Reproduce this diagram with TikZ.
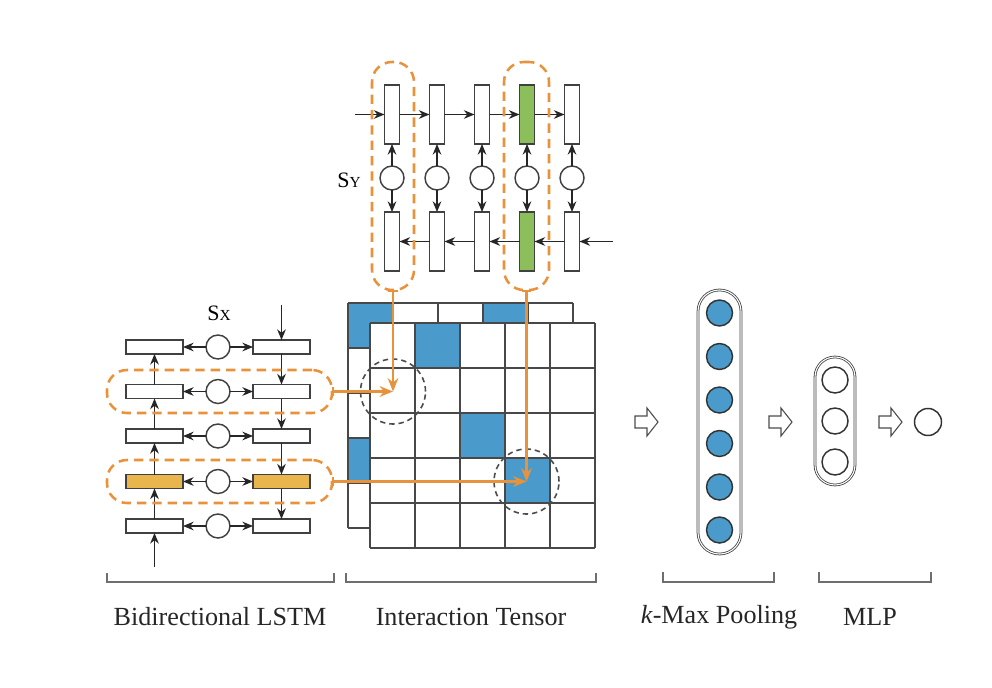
\documentclass[tikz,border=0pt]{standalone}
\usepackage{fontspec}
\setmainfont{Liberation Serif}
\usetikzlibrary{arrows.meta,shapes.geometric}
\newcommand{\myu}{0.75pt}
\definecolor{cblue}{RGB}{74,155,203}
\definecolor{cgreen}{RGB}{140,191,92}
\definecolor{cyellow}{RGB}{232,182,76}
\definecolor{corange}{RGB}{232,146,60}
\definecolor{cgrid}{RGB}{72,72,72}
\definecolor{cbrk}{RGB}{110,110,110}
\begin{document}
\begin{tikzpicture}[x=0.75pt,y=-0.75pt,
  vrect/.style={draw=black!75, line width=1.2pt, fill=white, minimum width=15*\myu, minimum height=59*\myu, inner sep=0pt, outer sep=0pt},
  hrect/.style={draw=black!75, line width=1.2pt, fill=white, minimum width=57*\myu, minimum height=14*\myu, inner sep=0pt, outer sep=0pt},
  gate/.style={circle, draw=black!75, line width=1.1pt, fill=white, minimum size=24*\myu, inner sep=0pt, outer sep=0pt},
  arr/.style={-{Stealth[length=8pt,width=6.5pt]}, line width=0.9pt, black!85},
  obox/.style={draw=corange, line width=1.9pt, dash pattern=on 7pt off 4.5pt, rounded corners=15pt, inner sep=0pt, outer sep=0pt},
  oarr/.style={draw=corange, line width=1.8pt, {Bar[width=7pt]}-{Stealth[length=10pt,width=8pt]}},
  dcirc/.style={circle, draw=black!70, line width=1.2pt, dash pattern=on 4pt off 3pt, minimum size=65*\myu, inner sep=0pt},
  gridl/.style={draw=cgrid, line width=1.3pt},
  capsule/.style={draw=black!75, line width=0.6pt, double=white, double distance=0.8pt, inner sep=0pt},
  pcirc/.style={circle, draw=black!80, line width=1.1pt, minimum size=26*\myu, inner sep=0pt},
  barrow/.style={draw=black!70, line width=0.8pt, fill=white},
  brk/.style={draw=cbrk, line width=1.2pt},
  lab/.style={font=\fontsize{19.6}{23}\selectfont, text=black!85, inner sep=0pt}
]
\useasboundingbox (0,0) rectangle (992,688);

% ---------- top (S_Y) bidirectional LSTM ----------
\foreach \i/\x in {1/392,2/437,3/482,4/527,5/572}{
  \node[vrect] (t\i) at (\x,114.5) {};
  \node[gate] (c\i) at (\x,178) {};
  \node[vrect] (b\i) at (\x,241.5) {};
  \draw[arr] (c\i) -- (t\i);
  \draw[arr] (c\i) -- (b\i);
}
\node[vrect, fill=cgreen] at (t4) {};
\node[vrect, fill=cgreen] at (b4) {};
\coordinate (yin) at (355,114.5);
\coordinate (yout) at (613,241.5);
\draw[arr] (yin) -- (t1);
\draw[arr] (t1) -- (t2);
\draw[arr] (t2) -- (t3);
\draw[arr] (t3) -- (t4);
\draw[arr] (t4) -- (t5);
\draw[arr] (yout) -- (b5);
\draw[arr] (b5) -- (b4);
\draw[arr] (b4) -- (b3);
\draw[arr] (b3) -- (b2);
\draw[arr] (b2) -- (b1);
\node[obox, minimum width=42*\myu, minimum height=228*\myu] (yb1) at (393,176) {};
\node[obox, minimum width=45*\myu, minimum height=228*\myu] (yb4) at (526.5,176) {};
\node[inner sep=0pt, anchor=base] (sy) at (349,187) {\fontsize{16.5}{18}\selectfont S\fontsize{11.5}{12}\selectfont Y};

% ---------- left (S_X) bidirectional LSTM ----------
\foreach \i/\y in {1/347,2/391.5,3/436,4/481.5,5/526}{
  \node[hrect] (l\i) at (154.5,\y) {};
  \node[gate] (m\i) at (218,\y) {};
  \node[hrect] (r\i) at (281.5,\y) {};
  \draw[arr] (m\i) -- (l\i);
  \draw[arr] (m\i) -- (r\i);
}
\node[hrect, fill=cyellow] at (l4) {};
\node[hrect, fill=cyellow] at (r4) {};
\coordinate (xin) at (154.5,567);
\coordinate (xtop) at (281.5,305);
\draw[arr] (xin) -- (l5);
\draw[arr] (l5) -- (l4);
\draw[arr] (l4) -- (l3);
\draw[arr] (l3) -- (l2);
\draw[arr] (l2) -- (l1);
\draw[arr] (xtop) -- (r1);
\draw[arr] (r1) -- (r2);
\draw[arr] (r2) -- (r3);
\draw[arr] (r3) -- (r4);
\draw[arr] (r4) -- (r5);
\node[obox, minimum width=225*\myu, minimum height=43*\myu] (xb2) at (219.5,391.5) {};
\node[obox, minimum width=225*\myu, minimum height=43*\myu] (xb4) at (219.5,481.5) {};
\node[inner sep=0pt, anchor=base] (sx) at (219,320) {\fontsize{16.5}{18}\selectfont S\fontsize{11.5}{12}\selectfont X};

% ---------- interaction tensor ----------
\fill[white] (348,303) rectangle (573,528);
\fill[cblue] (348,303) rectangle (393,348);
\fill[cblue] (483,303) rectangle (528,348);
\fill[cblue] (348,438) rectangle (393,483);
\foreach \i in {0,...,5}{
  \draw[gridl] (348+45*\i,303) -- (348+45*\i,528);
  \draw[gridl] (348,303+45*\i) -- (573,303+45*\i);
}
\fill[white] (370,323) rectangle (595,548);
\fill[cblue] (415,323) rectangle (460,368);
\fill[cblue] (460,413) rectangle (505,458);
\fill[cblue] (505,458) rectangle (550,503);
\foreach \i in {0,...,5}{
  \draw[gridl] (370+45*\i,323) -- (370+45*\i,548);
  \draw[gridl] (370,323+45*\i) -- (595,323+45*\i);
}
\coordinate (p1) at (yb1.south |- xb2.east);
\coordinate (p2) at (yb4.south |- xb4.east);
\node[dcirc] (dc1) at (p1) {};
\node[dcirc] (dc2) at (p2) {};
\draw[oarr] (yb1.south) -- (p1);
\draw[oarr] (xb2.east) -- (p1);
\draw[oarr] (yb4.south) -- (p2);
\draw[oarr] (xb4.east) -- (p2);

% ---------- k-max pooling & MLP ----------
\foreach \cx in {646,780,890}{
  \draw[barrow, shift={(\cx,422)}] (-11,-6) -- (1,-6) -- (1,-14) -- (12,0) -- (1,14) -- (1,6) -- (-11,6) -- cycle;
}
\node[capsule, minimum width=43*\myu, minimum height=264*\myu, rounded corners=16pt] (pool) at (719.5,422) {};
\foreach \i/\y in {1/313,2/356.5,3/400,4/443.5,5/487,6/530}{
  \node[pcirc, fill=cblue] (pc\i) at (719.5,\y) {};
}
\node[capsule, minimum width=40*\myu, minimum height=128*\myu, rounded corners=15pt] (mlp) at (835,421) {};
\foreach \i/\y in {1/380,2/421,3/462}{
  \node[pcirc, fill=white] (mc\i) at (835,\y) {};
}
\node[pcirc, fill=white, minimum size=27*\myu] (out) at (928,422) {};

% ---------- brackets & labels ----------
\draw[brk] (107,573) -- (107,582) -- (334,582) -- (334,573);
\draw[brk] (346,573) -- (346,582) -- (596,582) -- (596,573);
\draw[brk] (663,572) -- (663,582) -- (774,582) -- (774,572);
\draw[brk] (819,572) -- (819,582) -- (931,582) -- (931,572);
\node[lab] (lab1) at (220,617) {Bidirectional LSTM};
\node[lab] (lab2) at (471,617) {Interaction Tensor};
\node[lab] (lab3) at (719,617) {\textit{k}-Max Pooling};
\node[lab] (lab4) at (870,617) {MLP};
\end{tikzpicture}
\end{document}
